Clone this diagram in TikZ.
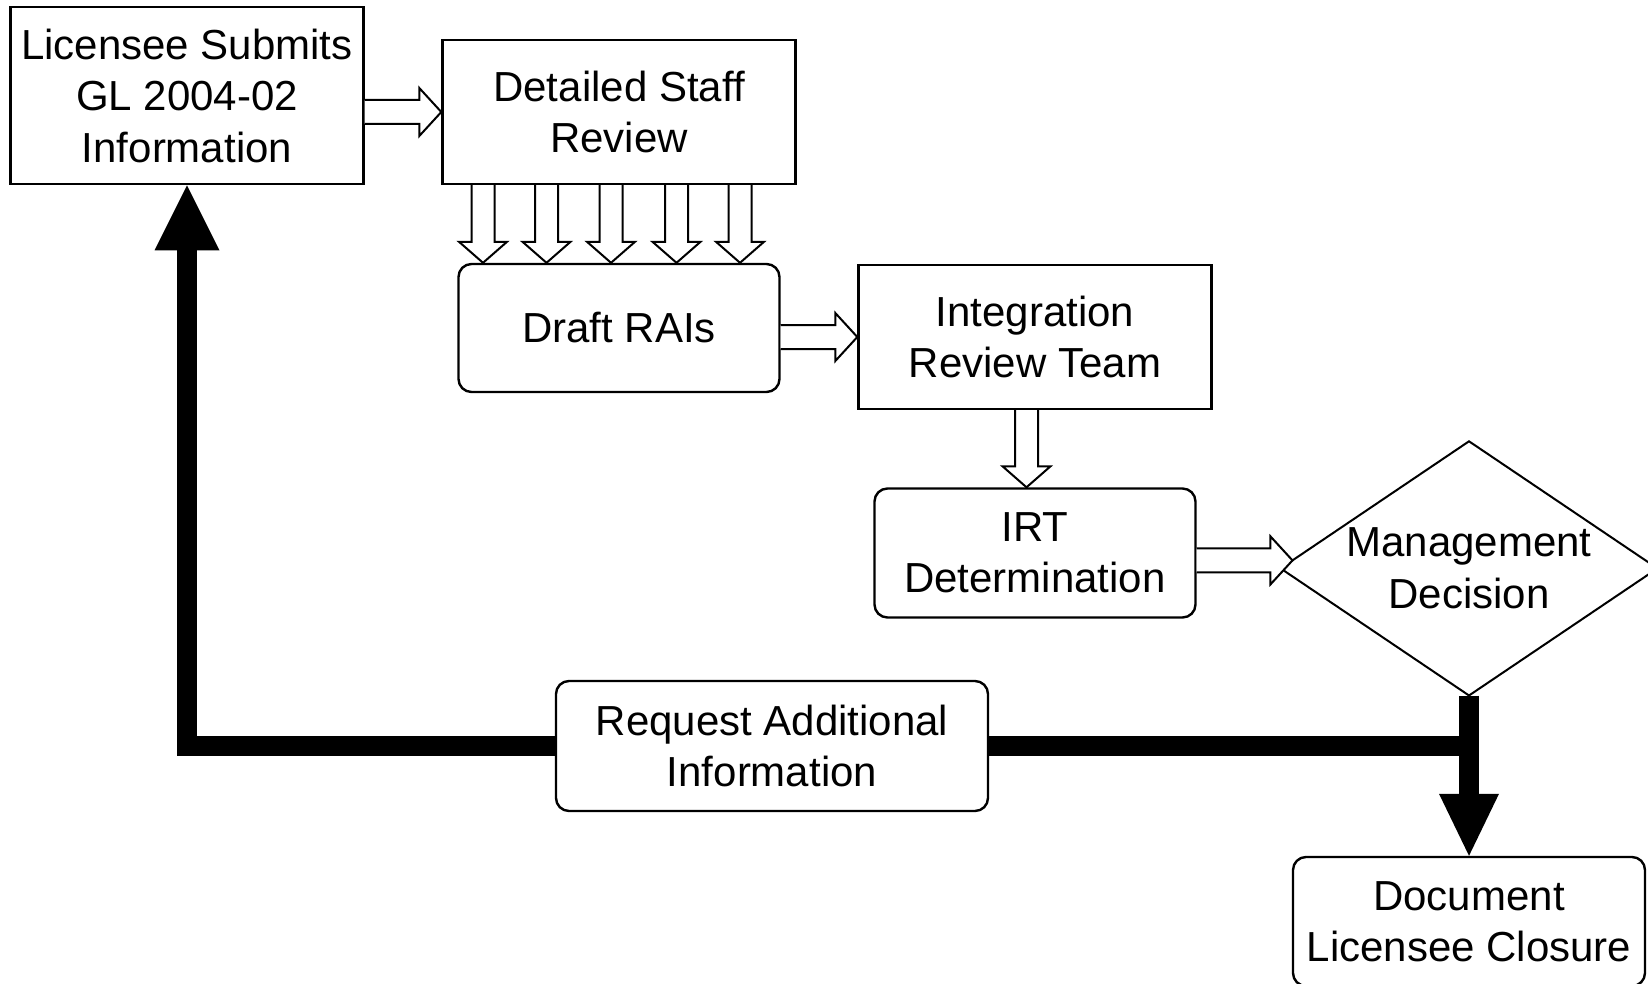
\documentclass[tikz,border=0pt]{standalone}
\usepackage{fontspec}
\setmainfont{Liberation Sans}
\usetikzlibrary{calc,arrows.meta}

% open (outlined) block arrows, drawn between two points
\newcommand{\hollowH}[2]{% pointing right, from #1 to #2
  \filldraw[hollow] ($(#1)+(0pt,6pt)$) -- ($(#2)+(-11pt,6pt)$) -- ($(#2)+(-11pt,12pt)$)
    -- (#2) -- ($(#2)+(-11pt,-12pt)$) -- ($(#2)+(-11pt,-6pt)$) -- ($(#1)+(0pt,-6pt)$);}
\newcommand{\hollowV}[2]{% pointing down, from #1 to #2
  \filldraw[hollow] ($(#1)+(-5.75pt,0pt)$) -- ($(#2)+(-5.75pt,10.5pt)$) -- ($(#2)+(-12pt,10.5pt)$)
    -- (#2) -- ($(#2)+(12pt,10.5pt)$) -- ($(#2)+(5.75pt,10.5pt)$) -- ($(#1)+(5.75pt,0pt)$);}

\tikzset{
  txt/.style={align=center, font=\fontsize{21}{25.75}\selectfont, inner sep=0pt},
  sqbox/.style={txt, draw, line width=1.2pt, rectangle},
  rbox/.style={sqbox, rounded corners=6.5pt},
  hollow/.style={draw=black, fill=white, line width=1pt, line join=miter},
  dia/.style={draw, line width=1pt, line join=miter},
  heavy/.style={line width=10pt, line join=miter, line cap=butt},
}

\begin{document}
\begin{tikzpicture}[x=0.5pt, y=-0.5pt]
\useasboundingbox (0,0) rectangle (1648,984);

% process boxes
\node[sqbox, minimum width=176.5pt, minimum height=88.5pt] (lic) at (187,95.7)
  {Licensee Submits\\GL 2004-02\\Information};
\node[sqbox, minimum width=176.5pt, minimum height=72pt] (dsr) at (619,112)
  {Detailed Staff\\Review};
\node[rbox, minimum width=160.5pt, minimum height=64pt] (draft) at (619,328)
  {Draft RAIs};
\node[sqbox, minimum width=176.5pt, minimum height=72pt] (irt) at (1035,337)
  {Integration\\Review Team};
\node[rbox, minimum width=160.5pt, minimum height=64.5pt] (irtdet) at (1035,553)
  {IRT\\Determination};
\node[txt, minimum width=188pt, minimum height=126.7pt] (dec) at (1469,568.4)
  {Management\\Decision};
\node[rbox, minimum width=216pt, minimum height=65pt] (req) at (772,746)
  {Request Additional\\Information};
\node[rbox, minimum width=176pt, minimum height=64.5pt] (doc) at (1469,921.5)
  {Document\\Licensee Closure};

% decision diamond
\draw[dia] (dec.north) -- (dec.east) -- (dec.south) -- (dec.west) -- cycle;

% open arrows of the review chain
\coordinate (a1) at (lic.east |- dsr.west);
\hollowH{a1}{dsr.west}
\foreach \dx [count=\i] in {-136,-72.5,-8,57.5,121} {
  \coordinate (u\i) at ($(dsr.south)+(\dx,0)$);
  \coordinate (v\i) at (u\i |- draft.north);
  \hollowV{u\i}{v\i}
}
\coordinate (b1) at (draft.east |- irt.west);
\hollowH{b1}{irt.west}
\coordinate (c1) at ($(irt.south)+(-8.5,0)$);
\coordinate (c2) at (c1 |- irtdet.north);
\hollowV{c1}{c2}
\coordinate (d2) at ($(dec.west)!0.063!(dec.north)$);
\coordinate (d1) at (irtdet.east |- d2);
\hollowH{d1}{d2}

% heavy decision paths
\draw[heavy, -{Triangle[length=31pt,width=30pt,line width=0pt]}] (dec.south) -- (doc.north);
\draw[heavy] (dec.south |- req.east) -- (req.east);
\draw[heavy, -{Triangle[length=32.5pt,width=32.5pt,line width=0pt]}]
  (req.west) -- (lic.south |- req.west) -- (lic.south);
\end{tikzpicture}
\end{document}
